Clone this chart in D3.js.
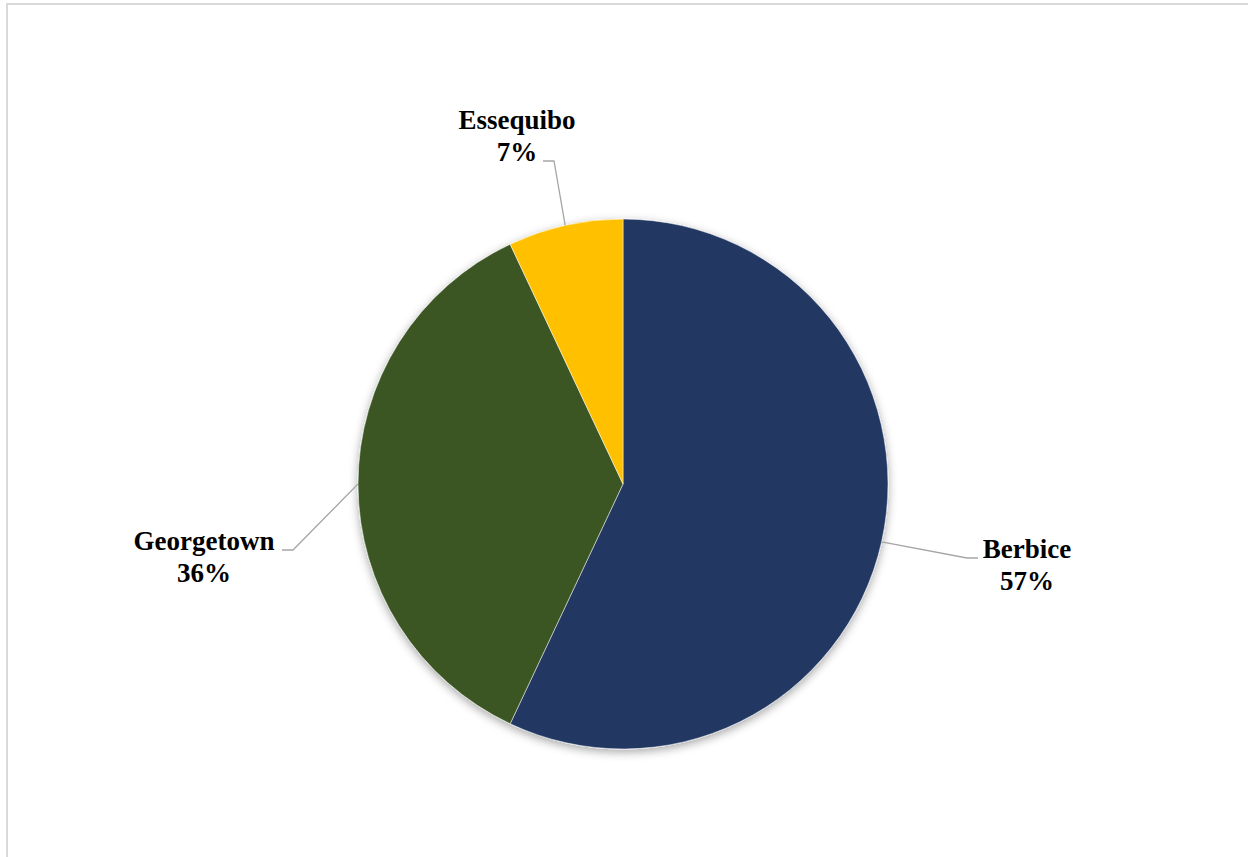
<!DOCTYPE html>
<html>
<head>
<meta charset="utf-8">
<script src="https://cdn.jsdelivr.net/npm/d3@7"></script>
<style>
  body { margin: 0; background: #fff; }
  svg { display: block; }
</style>
</head>
<body>
<div id="chart"></div>
<script>
// data
const regions = ["Berbice", "Georgetown", "Essequibo"];
const shares = [57, 36, 7];
const colors = ["#203864", "#3a5724", "#ffc000"];

const width = 1248, height = 857;
const cx = 623, cy = 484, radius = 265;

// label placement relative to pie centre (text centre x, first baseline y, elbow point)
const labelLayout = {
    Berbice:    { tx: 404, ty: 74,   ex: 344, ey: 74 },
    Georgetown: { tx: -419, ty: 66,  ex: -330, ey: 66 },
    Essequibo:  { tx: -106, ty: -355, ex: -69, ey: -323 }
};

const svg = d3.select("#chart").append("svg")
    .attr("width", width).attr("height", height);

// chart frame
svg.append("rect")
    .attr("x", 7).attr("y", 4)
    .attr("width", width + 10).attr("height", height + 10)
    .attr("fill", "#fff")
    .attr("stroke", "#d9d9d9").attr("stroke-width", 2);

const defs = svg.append("defs");
const shadow = defs.append("filter").attr("id", "shadow")
    .attr("x", "-20%").attr("y", "-20%").attr("width", "140%").attr("height", "140%");
shadow.append("feDropShadow")
    .attr("dx", 0).attr("dy", 3).attr("stdDeviation", 5)
    .attr("flood-color", "#000").attr("flood-opacity", 0.35);

const data = regions.map((r, i) => ({ name: r, value: shares[i], color: colors[i] }));

const pie = d3.pie().sort(null).value(d => d.value);
const arcs = pie(data);
const arc = d3.arc().innerRadius(0).outerRadius(radius);
const edge = d3.arc().innerRadius(radius).outerRadius(radius);

const g = svg.append("g").attr("transform", `translate(${cx},${cy})`);

g.append("g").attr("filter", "url(#shadow)")
    .selectAll("path").data(arcs).enter().append("path")
    .attr("d", arc)
    .attr("fill", d => d.data.color)
    .attr("stroke", "#fff").attr("stroke-width", 0.5);

// leader lines
g.selectAll(".leader").data(arcs).enter().append("polyline")
    .attr("class", "leader")
    .attr("fill", "none")
    .attr("stroke", "#a6a6a6").attr("stroke-width", 1.3)
    .attr("points", d => {
        const p = edge.centroid(d);
        const l = labelLayout[d.data.name];
        const side = l.tx < l.ex ? -1 : 1;
        return [p, [l.ex, l.ey], [l.ex + side * 11, l.ey]].map(q => q.join(",")).join(" ");
    });

const labels = g.selectAll(".label").data(arcs).enter().append("text")
    .attr("class", "label")
    .attr("text-anchor", "middle")
    .style("font-family", "'Liberation Serif', 'Times New Roman', serif")
    .style("font-weight", "bold")
    .style("font-size", "27px")
    .attr("fill", "#000");

labels.append("tspan")
    .attr("x", d => labelLayout[d.data.name].tx)
    .attr("y", d => labelLayout[d.data.name].ty)
    .text(d => d.data.name);
labels.append("tspan")
    .attr("x", d => labelLayout[d.data.name].tx)
    .attr("dy", 32)
    .text(d => d.data.value + "%");
</script>
</body>
</html>
